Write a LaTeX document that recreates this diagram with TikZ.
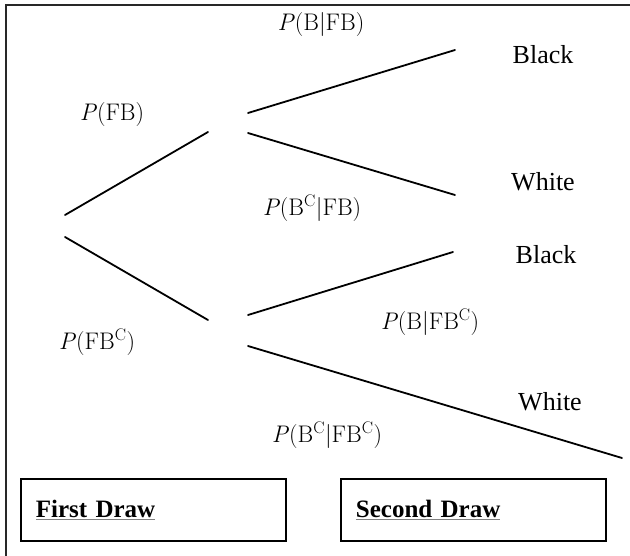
\documentclass[tikz,border=0pt]{standalone}
\usepackage{fontspec}
\setmainfont{Liberation Serif}
\newfontfamily\lmfont{Latin Modern Roman}
\usetikzlibrary{positioning}
\definecolor{FrameGray}{RGB}{40,40,40}

\tikzset{
  branch/.style={line width=1.8pt,line cap=round},
  prob/.style={font=\fontsize{24}{26}\selectfont\lmfont,inner sep=0pt},
  outcome/.style={font=\fontsize{26}{28}\selectfont,inner sep=0pt},
  drawbox/.style={draw,line width=1.8pt,minimum height=62pt,text width=235pt,
    inner xsep=15pt,align=left,font=\fontsize{25}{27}\selectfont\bfseries,anchor=north west}
}
\newcommand{\grayul}[1]{\textcolor{gray}{\underline{\textcolor{black}{#1}}}}
\newcommand{\cmp}{\textsuperscript{C}}

\begin{document}
\begin{tikzpicture}[x=1pt,y=-1pt]
\useasboundingbox (0,0) rectangle (630,556);
% frame
\draw[FrameGray,line width=2.2pt] (630,5) -- (6,5) -- (6,556);
% first draw
\coordinate (root1) at (65,215); \coordinate (root2) at (65,237);
\coordinate (fb) at (208,132); \coordinate (fbc) at (208,320);
\draw[branch] (root1) -- (fb);
\draw[branch] (root2) -- (fbc);
% second draw
\coordinate (fbs1) at (248,113); \coordinate (fbs2) at (248,133);
\coordinate (fbcs1) at (248,315); \coordinate (fbcs2) at (248,346);
\coordinate (bb) at (455,50); \coordinate (bw) at (455,195);
\coordinate (wb) at (453,252); \coordinate (ww) at (622,458);
\draw[branch] (fbs1) -- (bb);
\draw[branch] (fbs2) -- (bw);
\draw[branch] (fbcs1) -- (wb);
\draw[branch] (fbcs2) -- (ww);
% labels
\node[prob] (pbfb) at (321,25) {\textit{P}(B|FB)};
\node[prob] (pfb) at (112,115) {\textit{P}(FB)};
\node[prob] (pbcfb) at (312,208) {\textit{P}(B\cmp|FB)};
\node[prob] (pbfbc) at (430,322) {\textit{P}(B|FB\cmp)};
\node[prob] (pfbc) at (97,342) {\textit{P}(FB\cmp)};
\node[prob] (pbcfbc) at (327,435) {\textit{P}(B\cmp|FB\cmp)};
\node[outcome] (black1) at (543,55) {Black};
\node[outcome] (white1) at (543,182) {White};
\node[outcome] (black2) at (546,255) {Black};
\node[outcome] (white2) at (550,402) {White};
% boxes
\node[drawbox] (firstbox) at (20,478) {\grayul{First Draw}};
\node[drawbox] (secondbox) at (340,478) {\grayul{Second Draw}};
\end{tikzpicture}
\end{document}
